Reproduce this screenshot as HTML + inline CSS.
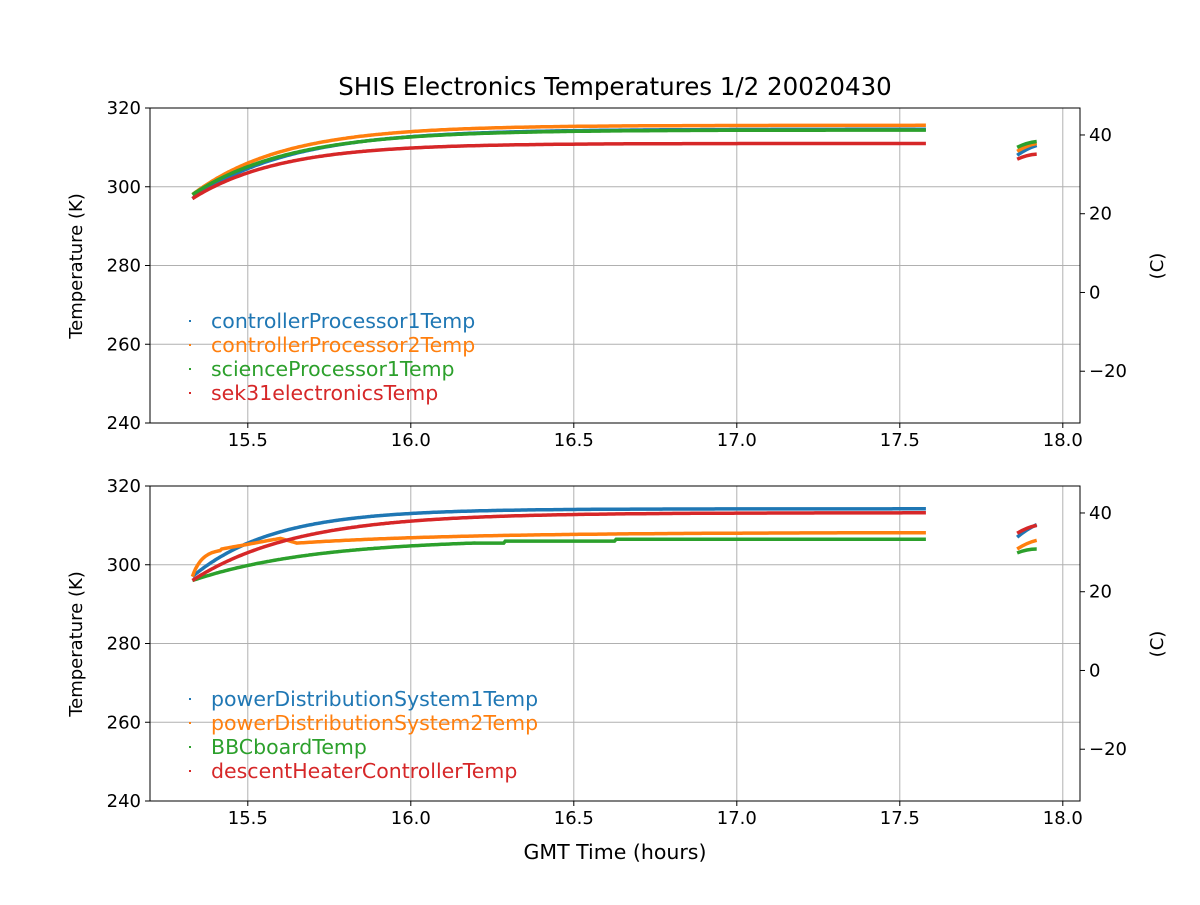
<!DOCTYPE html>
<html><head><meta charset="utf-8"><style>
body{margin:0;background:#fff}
svg text{font-family:"DejaVu Sans","Liberation Sans",sans-serif;fill:#000}
</style></head><body>
<svg id="s" width="1200" height="900" xmlns="http://www.w3.org/2000/svg"></svg>
<script>
const S=document.getElementById('s');let h='';
const X=t=>150+(t-15.2)*326;
h+='<text x="615" y="95" font-size="24.5" text-anchor="middle">SHIS Electronics Temperatures 1/2 20020430</text>';
const C=['#1f77b4','#ff7f0e','#2ca02c','#d62728'];
function panel(top,series,seg2,names){
 const Y=k=>top+(320-k)*3.9375;
 for(let t=15.5;t<=18.01;t+=0.5){h+=`<line x1="${X(t)}" x2="${X(t)}" y1="${top}" y2="${top+315}" stroke="#b0b0b0" stroke-width="1"/>`;
  h+=`<line x1="${X(t)}" x2="${X(t)}" y1="${top+315}" y2="${top+320}" stroke="#000"/>`;
  h+=`<text x="${X(t)}" y="${top+338}" font-size="18" text-anchor="middle">${t.toFixed(1)}</text>`;}
 for(let k=240;k<=320;k+=20){const y=Y(k);h+=`<line x1="150" x2="1080" y1="${y}" y2="${y}" stroke="#b0b0b0"/>`;
  h+=`<line x1="145" x2="150" y1="${y}" y2="${y}" stroke="#000"/><text x="141" y="${y+6}" font-size="18" text-anchor="end">${k}</text>`;}
 for(let c=-20;c<=40;c+=20){const y=Y(c+273.15);h+=`<line x1="1080" x2="1085" y1="${y}" y2="${y}" stroke="#000"/><text x="1089" y="${y+6}" font-size="18">${c<0?'\u2212'+(-c):c}</text>`;}
 h+=`<text transform="translate(82,${top+158}) rotate(-90)" font-size="18" text-anchor="middle">Temperature (K)</text>`;
 h+=`<text transform="translate(1163,${top+158}) rotate(-90)" font-size="18" text-anchor="middle">(C)</text>`;
 series.forEach((f,i)=>{let p='';for(let t=15.33;t<=17.58;t+=0.005){p+=(p?'L':'M')+X(t).toFixed(1)+','+Y(f(t)).toFixed(1);}
  h+=`<path d="${p}" fill="none" stroke="${C[i]}" stroke-width="3.5"/>`;
  const [a,b]=seg2[i];h+=`<path d="M${X(17.86)},${Y(a)} Q${X(17.89)},${Y((a+b)/2+0.5)} ${X(17.92)},${Y(b)}" fill="none" stroke="${C[i]}" stroke-width="3.5"/>`;});
 names.forEach((n,i)=>{const y=top+213+i*24;h+=`<rect x="189" y="${y-1}" width="2" height="2" fill="${C[i]}"/><text x="211" y="${y+7}" font-size="20.5" style="fill:${C[i]}">${n}</text>`;});
 h+=`<rect x="150" y="${top}" width="930" height="315" fill="none" stroke="#000" stroke-width="1"/>`;
}
const E=(a,b,tau)=>t=>b-(b-a)*Math.exp(-(t-15.33)/tau);
panel(108,[E(297,314.6,0.3),E(298,315.6,0.28),E(298,314.4,0.3),E(297,311,0.27)],
 [[308,310.5],[309,311],[310,311.5],[307,308.3]],
 ['controllerProcessor1Temp','controllerProcessor2Temp','scienceProcessor1Temp','sek31electronicsTemp']);
const orange=t=>{if(t<15.42)return 297+7*(1-Math.exp(-(t-15.33)/0.03));
 if(t<15.6)return 304+2.7*(t-15.42)/0.18; if(t<15.65)return 306.7-1.2*(t-15.6)/0.05; return 305.5+2.7*(1-Math.exp(-(t-15.65)/0.5));};
const green=t=>{const v=306.6-(306.6-296)*Math.exp(-(t-15.33)/0.38);return t>16.2?Math.round(v*2)/2:v;};
panel(486,[E(297,314.2,0.25),orange,green,E(296,313.2,0.32)],
 [[307,310.2],[304,306.2],[303,304],[308,310]],
 ['powerDistributionSystem1Temp','powerDistributionSystem2Temp','BBCboardTemp','descentHeaterControllerTemp']);
h+='<text x="615" y="859" font-size="20.5" text-anchor="middle">GMT Time (hours)</text>';
S.innerHTML=h;
</script>
</body></html>
